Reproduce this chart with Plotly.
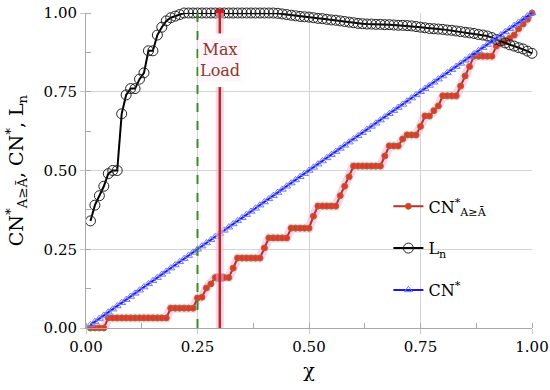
import plotly.graph_objects as go

chi = [round(0.01 * i, 2) for i in range(1, 101)]

cn_star = [0.01, 0.02, 0.03, 0.04, 0.05, 0.06, 0.07, 0.08, 0.09, 0.10,
           0.11, 0.12, 0.13, 0.14, 0.15, 0.16, 0.17, 0.18, 0.19, 0.20,
           0.21, 0.22, 0.23, 0.24, 0.25, 0.26, 0.27, 0.28, 0.29, 0.30,
           0.31, 0.32, 0.33, 0.34, 0.35, 0.36, 0.37, 0.38, 0.39, 0.40,
           0.41, 0.42, 0.43, 0.44, 0.45, 0.46, 0.47, 0.48, 0.49, 0.50,
           0.51, 0.52, 0.53, 0.54, 0.55, 0.56, 0.57, 0.58, 0.59, 0.60,
           0.61, 0.62, 0.63, 0.64, 0.65, 0.66, 0.67, 0.68, 0.69, 0.70,
           0.71, 0.72, 0.73, 0.74, 0.75, 0.76, 0.77, 0.78, 0.79, 0.80,
           0.81, 0.82, 0.83, 0.84, 0.85, 0.86, 0.87, 0.88, 0.89, 0.90,
           0.91, 0.92, 0.93, 0.94, 0.95, 0.96, 0.97, 0.98, 0.99, 1.00]

l_n = [0.34, 0.39, 0.42, 0.45, 0.49, 0.50, 0.50, 0.68, 0.74, 0.76,
       0.76, 0.79, 0.81, 0.88, 0.88, 0.93, 0.955, 0.975, 0.985, 0.99,
       0.995, 1.0, 1.0, 1.0, 1.0, 1.0, 1.0, 1.0, 1.0, 1.0,
       1.0, 1.0, 1.0, 1.0, 1.0, 1.0, 1.0, 1.0, 1.0, 1.0,
       1.0, 1.0, 0.999, 0.997, 0.995, 0.993, 0.991, 0.989, 0.988, 0.987,
       0.985, 0.983, 0.982, 0.980, 0.978, 0.977, 0.975, 0.973, 0.971, 0.969,
       0.967, 0.966, 0.965, 0.965, 0.964, 0.964, 0.963, 0.963, 0.962, 0.961,
       0.961, 0.960, 0.959, 0.957, 0.955, 0.953, 0.951, 0.950, 0.949, 0.948,
       0.946, 0.945, 0.943, 0.941, 0.939, 0.937, 0.935, 0.932, 0.930, 0.927,
       0.922, 0.916, 0.911, 0.905, 0.899, 0.895, 0.890, 0.886, 0.879, 0.872]

cn_a = [0.0, 0.0, 0.0, 0.0, 0.032, 0.032, 0.032, 0.032, 0.032, 0.032,
        0.032, 0.032, 0.032, 0.032, 0.032, 0.032, 0.032, 0.032, 0.063, 0.063,
        0.063, 0.063, 0.063, 0.063, 0.095, 0.098, 0.127, 0.14, 0.16, 0.16,
        0.16, 0.16, 0.19, 0.222, 0.222, 0.222, 0.222, 0.222, 0.222, 0.254,
        0.286, 0.286, 0.286, 0.286, 0.286, 0.317, 0.317, 0.317, 0.317, 0.317,
        0.355, 0.387, 0.387, 0.387, 0.387, 0.387, 0.42, 0.45, 0.48, 0.514,
        0.514, 0.514, 0.514, 0.514, 0.514, 0.514, 0.546, 0.578, 0.578, 0.578,
        0.60, 0.613, 0.613, 0.613, 0.64, 0.673, 0.673, 0.69, 0.705, 0.737,
        0.737, 0.737, 0.737, 0.768, 0.80, 0.83, 0.863, 0.863, 0.863, 0.863,
        0.863, 0.895, 0.905, 0.91, 0.92, 0.93, 0.95, 0.965, 0.98, 1.0]

tick_vals = [0, 0.25, 0.5, 0.75, 1.0]
tick_text = ["0.00", "0.25", "0.50", "0.75", "1.00"]
threshold_x = 0.25
max_load_x = 0.30
max_load_label = "Max<br>Load"

SERIF = "DejaVu Serif"

fig = go.Figure()

# pink glow under CN*_A series
fig.add_trace(go.Scatter(x=chi, y=cn_a, mode="lines", showlegend=False, hoverinfo="skip",
                         line=dict(color="rgba(255,170,220,0.55)", width=9), cliponaxis=False))

fig.add_trace(go.Scatter(
    x=chi, y=cn_a, mode="lines+markers",
    name="CN<sup>*</sup><sub>A≥Ā</sub>", legendgroup="a",
    line=dict(color="#B5302A", width=2),
    marker=dict(symbol="circle", size=6, color="#F03030", line=dict(color="#8A7A2A", width=1)),
    cliponaxis=False))

fig.add_trace(go.Scatter(
    x=chi, y=l_n, mode="lines+markers", name="L<sub>n</sub>", legendgroup="b",
    line=dict(color="black", width=2),
    marker=dict(symbol="circle-open", size=10, color="#222222", line=dict(width=1)),
    cliponaxis=False))

fig.add_trace(go.Scatter(
    x=chi, y=cn_star, mode="lines+markers", name="CN<sup>*</sup>", legendgroup="c",
    line=dict(color="#1A1AE6", width=2),
    marker=dict(symbol="triangle-up-open", size=7, color="#6E78FF", line=dict(width=1)),
    cliponaxis=False))

# vertical reference lines
fig.add_shape(type="line", x0=threshold_x, x1=threshold_x, y0=0, y1=1, xref="x", yref="y",
              line=dict(color="#3C8A2C", width=2, dash="dash"))
for seg in [(0, 0.765), (0.935, 1.0)]:
    fig.add_shape(type="line", x0=max_load_x, x1=max_load_x, y0=seg[0], y1=seg[1], xref="x", yref="y",
                  line=dict(color="rgba(255,180,215,0.6)", width=8))
    fig.add_shape(type="line", x0=max_load_x, x1=max_load_x, y0=seg[0], y1=seg[1], xref="x", yref="y",
                  line=dict(color="#A8302A", width=2.5))

fig.add_trace(go.Scatter(x=[max_load_x, max_load_x], y=[1.0, 0.16], mode="markers", showlegend=False,
                         hoverinfo="skip", marker=dict(symbol="square", size=8, color="#C0201E"),
                         cliponaxis=False))

fig.add_annotation(x=max_load_x, y=0.85, xref="x", yref="y", text=max_load_label, showarrow=False,
                   font=dict(family=SERIF, size=16, color="#8A3A2A"), bgcolor="rgba(255,245,250,1)",
                   align="center")

axis_common = dict(
    range=[0, 1], tickvals=tick_vals, ticktext=tick_text,
    showgrid=True, gridcolor="#D4D4D4", gridwidth=1,
    showline=True, linecolor="#A8A8A8", linewidth=1,
    ticks="outside", ticklen=5, tickcolor="#C8C8C8",
    minor=dict(dtick=0.125, ticks="inside", ticklen=5, tickcolor="#A8A8A8", showgrid=False),
    tickfont=dict(family=SERIF, size=15, color="black"),
    zeroline=False, automargin=False,
)

fig.update_xaxes(**axis_common, title=dict(text="χ", font=dict(family=SERIF, size=19, color="black"), standoff=8))
fig.update_yaxes(**axis_common,
                 title=dict(text="CN<sup>*</sup><sub>A≥Ā</sub>, CN<sup>*</sup>, L<sub>n</sub>",
                            font=dict(family=SERIF, size=19, color="black"), standoff=14))

fig.update_layout(
    width=550, height=390,
    margin=dict(l=86, r=18, t=13, b=62, autoexpand=False),
    plot_bgcolor="white", paper_bgcolor="white",
    font=dict(family=SERIF, color="black"),
    legend=dict(x=0.678, y=0.44, xanchor="left", yanchor="top", bgcolor="rgba(255,255,255,0)",
                font=dict(family=SERIF, size=16, color="black"), traceorder="grouped", tracegroupgap=18),
    showlegend=True,
)

fig.write_html("out.html", config={"displayModeBar": False},
               post_script="document.body.style.margin='0';document.body.style.padding='0';")
